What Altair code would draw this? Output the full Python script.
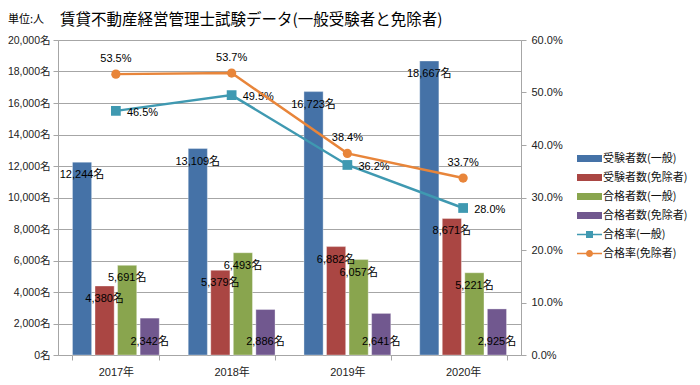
import altair as alt
import pandas as pd

FONT = "Noto Sans CJK JP"
NUMFONT = "Liberation Sans, Noto Sans CJK JP"

title_text = "賃貸不動産経営管理士試験データ(一般受験者と免除者)"
unit_text = "単位:人"

years = ["2017年", "2018年", "2019年", "2020年"]
bar_series = ["受験者数(一般)", "受験者数(免除者)", "合格者数(一般)", "合格者数(免除者)"]
rate_series = ["合格率(一般)", "合格率(免除者)"]

applicants_general = [12244, 13109, 16723, 18667]
applicants_exempt = [4380, 5379, 6882, 8671]
passed_general = [5691, 6493, 6057, 5221]
passed_exempt = [2342, 2886, 2641, 2925]
rate_general = [46.5, 49.5, 36.2, 28.0]
rate_exempt = [53.5, 53.7, 38.4, 33.7]

bar_colors = ["#4572A7", "#AA4643", "#89A54E", "#71588F"]
line_colors = ["#3F99B1", "#E8853A"]

left_ticks = list(range(0, 20001, 2000))
right_ticks = list(range(0, 61, 10))

# ---- tables ----
bar_values = [applicants_general, applicants_exempt, passed_general, passed_exempt]
bar_rows = []
for s, vals in zip(bar_series, bar_values):
    for y, v in zip(years, vals):
        bar_rows.append({"year": y, "series": s, "value": v, "label": f"{v:,}名"})
bars_df = pd.DataFrame(bar_rows)

rate_values = [rate_general, rate_exempt]
rate_rows = []
for s, vals in zip(rate_series, rate_values):
    for y, v in zip(years, vals):
        rate_rows.append({"year": y, "series": s, "rate": v, "label": f"{v:.1f}%"})
rates_df = pd.DataFrame(rate_rows)

GRID = "#A6A6A6"

x_enc = alt.X(
    "year:N", sort=years,
    scale=alt.Scale(paddingInner=0.25, paddingOuter=0.125),
    axis=alt.Axis(title=None, labelAngle=0, tickBand="extent", tickSize=5,
                  tickColor=GRID, domainColor=GRID, labelFontSize=11,
                  labelFont=NUMFONT, labelColor="#222222", labelPadding=6),
)

xoff = alt.XOffset("series:N", sort=bar_series, scale=alt.Scale(paddingInner=0.15, paddingOuter=0))

left_axis = alt.Axis(title=None, values=left_ticks,
                     labelExpr="format(datum.value, ',') + '名'",
                     grid=True, gridColor=GRID, gridWidth=1, tickSize=5,
                     tickColor=GRID, domainColor=GRID, labelFontSize=10.5,
                     labelFont=NUMFONT, labelColor="#222222", labelPadding=3)
left_scale = alt.Scale(domain=[0, 20000], nice=False)

rect_path = "M-1.5,-0.42L1.5,-0.42L1.5,0.42L-1.5,0.42Z"
line_sq = "M-1.5,-0.1L1.5,-0.1L1.5,0.1L-1.5,0.1Z M-0.42,-0.42L0.42,-0.42L0.42,0.42L-0.42,0.42Z"
line_ci = "M-1.5,-0.1L1.5,-0.1L1.5,0.1L-1.5,0.1Z M-0.42,0A0.42,0.42 0 1,1 0.42,0A0.42,0.42 0 1,1 -0.42,0Z"
sym_expr = (f"datum.value == '{rate_series[0]}' ? '{line_sq}' : "
            f"(datum.value == '{rate_series[1]}' ? '{line_ci}' : '{rect_path}')")

bars = alt.Chart(bars_df).mark_bar(stroke="#ffffff", strokeOpacity=0.35, strokeWidth=1).encode(
    x=x_enc,
    xOffset=xoff,
    y=alt.Y("value:Q", scale=left_scale, axis=left_axis),
    color=alt.Color(
        "series:N",
        scale=alt.Scale(domain=bar_series + rate_series, range=bar_colors + line_colors),
        legend=alt.Legend(title=None, orient="none", legendX=523, legendY=110,
                          symbolType={"expr": sym_expr}, symbolSize=278,
                          symbolStrokeWidth=0, labelOffset=5, rowPadding=5,
                          labelFontSize=11, labelFont=FONT, labelColor="#111111",
                          padding=0, labelLimit=200),
    ),
)

bar_text = alt.Chart(bars_df).transform_filter(
    alt.datum.series != bar_series[3]
).mark_text(fontSize=11, font=NUMFONT, color="black", baseline="middle", dy=13).encode(
    x=x_enc, xOffset=xoff,
    y=alt.Y("value:Q", scale=left_scale, axis=left_axis),
    text="label:N",
)

bar_text_low = alt.Chart(bars_df).transform_filter(
    alt.datum.series == bar_series[3]
).mark_text(fontSize=11, font=NUMFONT, color="black", baseline="middle").encode(
    x=x_enc, xOffset=xoff,
    y=alt.value(302),
    text="label:N",
)

titles = alt.Chart(pd.DataFrame({"t": [title_text]})).mark_text(
    fontSize=15.5, font=FONT, color="black", align="left", baseline="middle"
).encode(text="t:N", x=alt.value(2), y=alt.value(-20))

unit = alt.Chart(pd.DataFrame({"t": [unit_text]})).mark_text(
    fontSize=11, font=FONT, color="black", align="left", baseline="middle"
).encode(text="t:N", x=alt.value(-50), y=alt.value(-20))

left_group = alt.layer(bars, bar_text, bar_text_low, titles, unit)

right_axis = alt.Axis(title=None, values=right_ticks,
                      labelExpr="format(datum.value, '.1f') + '%'",
                      grid=False, tickSize=5, tickColor=GRID, domainColor=GRID,
                      labelFontSize=11, labelFont=NUMFONT, labelColor="#222222",
                      labelPadding=5)
right_scale = alt.Scale(domain=[0, 60], nice=False)

right_layers = []
shapes = ["square", "circle"]
sizes = [95, 85]
for i, s in enumerate(rate_series):
    base = alt.Chart(rates_df).transform_filter(alt.datum.series == s)
    y_enc = alt.Y("rate:Q", scale=right_scale, axis=right_axis)
    right_layers.append(base.mark_line(color=line_colors[i], strokeWidth=2.5).encode(x=x_enc, y=y_enc))
    right_layers.append(base.mark_point(shape=shapes[i], filled=True, size=sizes[i],
                                        color=line_colors[i], opacity=1).encode(x=x_enc, y=y_enc))
    if i == 0:
        txt = base.mark_text(fontSize=11, font=NUMFONT, color="black", align="left",
                             baseline="middle", dx=11, dy=2)
    else:
        txt = base.mark_text(fontSize=11, font=NUMFONT, color="black", align="center",
                             baseline="middle", dy=-15)
    right_layers.append(txt.encode(x=x_enc, y=y_enc, text="label:N"))

right_group = alt.layer(*right_layers)

chart = alt.layer(left_group, right_group).resolve_scale(y="independent").properties(
    width=463, height=315,
    padding={"left": 50, "top": 32, "right": 171, "bottom": 22},
    autosize=alt.AutoSizeParams(type="none"),
).configure_view(stroke=None).configure(font=FONT)

chart.save("out.html", embed_options={"renderer": "svg", "actions": False})
